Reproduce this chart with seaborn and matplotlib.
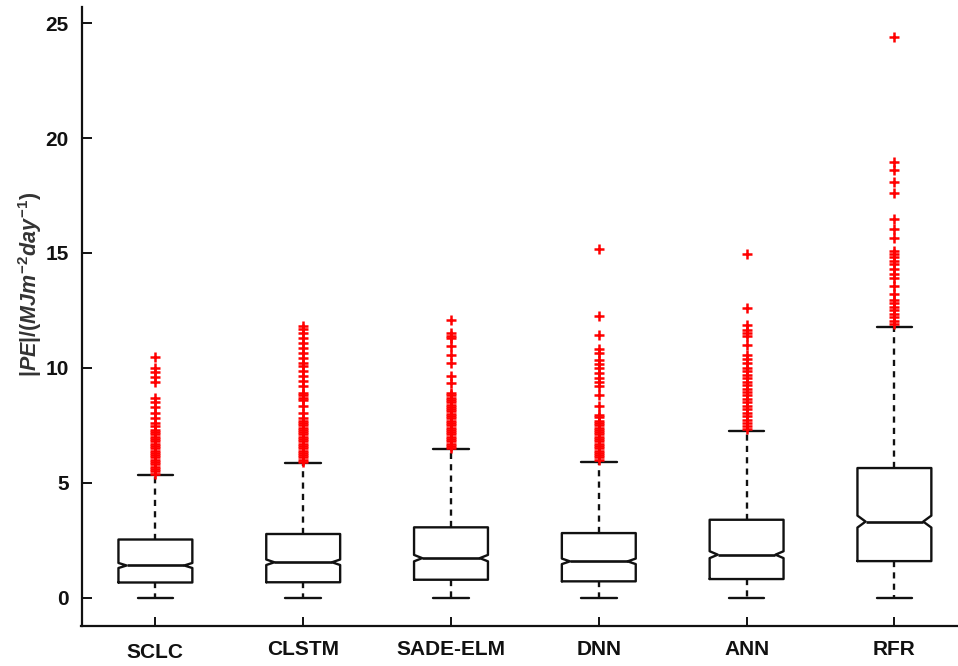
import matplotlib
matplotlib.use("Agg")
import matplotlib.pyplot as plt
from matplotlib.transforms import ScaledTranslation
import seaborn as sns

# ---------------- data ----------------
models = ["SCLC", "CLSTM", "SADE-ELM", "DNN", "ANN", "RFR"]
whisker_low = [0, 0, 0, 0, 0, 0]
q1 = [0.66, 0.67, 0.78, 0.71, 0.81, 1.59]
median = [1.40, 1.54, 1.72, 1.58, 1.87, 3.31]
q3 = [2.53, 2.77, 3.06, 2.81, 3.39, 5.64]
whisker_high = [5.33, 5.84, 6.46, 5.90, 7.25, 11.78]
notch_half = [0.11, 0.12, 0.14, 0.12, 0.15, 0.26]

sclc_outliers = [10.45, 10.0, 9.8, 9.6, 9.4, 8.7, 8.5, 8.3, 8.05, 7.8, 7.6, 7.45,
                 7.3, 7.2, 7.1, 7.0, 6.9, 6.8, 6.7, 6.6, 6.5, 6.4, 6.3, 6.2, 6.1,
                 6.0, 5.9, 5.8, 5.7, 5.6, 5.5, 5.4]
clstm_outliers = [11.84, 11.69, 11.52, 11.3, 11.08, 10.87, 10.65, 10.43, 10.21,
                  10.07, 9.85, 9.63, 9.41, 9.2, 8.91, 8.8, 8.7, 8.62, 8.33, 8.04,
                  7.82, 7.7, 7.6, 7.5, 7.4, 7.3, 7.2, 7.1, 7.0, 6.9, 6.8, 6.7,
                  6.6, 6.5, 6.4, 6.3, 6.2, 6.1, 6.0, 5.9]
sade_outliers = [12.1, 11.52, 11.4, 11.3, 10.94, 10.57, 10.21, 9.63, 9.34, 8.9,
                 8.8, 8.7, 8.6, 8.5, 8.4, 8.3, 8.2, 8.1, 8.0, 7.9, 7.8, 7.7, 7.6,
                 7.5, 7.4, 7.3, 7.2, 7.1, 7.0, 6.9, 6.8, 6.7, 6.6, 6.5]
dnn_outliers = [15.19, 12.24, 11.42, 10.84, 10.65, 10.36, 10.15, 9.99, 9.78, 9.56,
                9.38, 9.2, 8.8, 8.33, 7.96, 7.85, 7.7, 7.6, 7.5, 7.4, 7.3, 7.2,
                7.1, 7.0, 6.9, 6.8, 6.7, 6.6, 6.5, 6.4, 6.3, 6.2, 6.1, 6.0]
ann_outliers = [14.97, 12.6, 11.88, 11.66, 11.5, 11.37, 11.01, 10.57, 10.4, 10.2,
                10.0, 9.85, 9.7, 9.55, 9.4, 9.25, 9.1, 8.95, 8.8, 8.65, 8.5, 8.35,
                8.2, 8.05, 7.9, 7.75, 7.6, 7.45, 7.35]
rfr_outliers = [24.39, 18.97, 18.59, 18.1, 17.62, 16.48, 16.05, 15.65, 15.1, 14.95,
                14.84, 14.67, 14.5, 14.31, 14.1, 13.9, 13.55, 13.21, 12.94, 12.8,
                12.65, 12.5, 12.35, 12.2, 12.05, 11.9]
outliers = [sclc_outliers, clstm_outliers, sade_outliers, dnn_outliers,
            ann_outliers, rfr_outliers]

y_ticks = [0, 5, 10, 15, 20, 25]
y_label = r"$|PE|/(MJm^{-2}day^{-1})$"

# ---------------- style ----------------
sns.set_theme(style="ticks")
plt.rcParams["font.family"] = ["Liberation Sans", "DejaVu Sans"]
plt.rcParams["mathtext.fontset"] = "custom"
plt.rcParams["mathtext.rm"] = "Liberation Sans:bold"
plt.rcParams["mathtext.it"] = "Liberation Sans:italic:bold"
plt.rcParams["mathtext.bf"] = "Liberation Sans:bold"

ink = "#111111"
fig = plt.figure(figsize=(9.58, 6.66), dpi=100)
ax = fig.add_axes([81.5 / 958, 40.3 / 666, 886.8 / 958, 618.7 / 666])

stats = []
for i, m in enumerate(models):
    stats.append(dict(label=m, whislo=whisker_low[i], q1=q1[i], med=median[i],
                      q3=q3[i], whishi=whisker_high[i],
                      cilo=median[i] - notch_half[i], cihi=median[i] + notch_half[i],
                      fliers=outliers[i]))

width = 0.5
res = ax.bxp(stats, positions=list(range(len(models))), widths=width,
             capwidths=0.24, shownotches=True, showfliers=True,
             boxprops=dict(color=ink, linewidth=1.7),
             whiskerprops=dict(color=ink, linewidth=1.7, linestyle=(0, (2.6, 2.2))),
             capprops=dict(color=ink, linewidth=1.7),
             medianprops=dict(color=ink, linewidth=1.9),
             flierprops=dict(marker="+", markeredgecolor="#ff0000",
                             markerfacecolor="none", markersize=7.5,
                             markeredgewidth=1.8, linestyle="none"))

# shallow (MATLAB-like) notches
depth = 0.11 * width
for box, med in zip(res["boxes"], res["medians"]):
    xd = list(box.get_xdata())
    left, right = xd[0], xd[1]
    xd[3] = right - depth
    xd[8] = left + depth
    box.set_xdata(xd)
    med.set_xdata([left + depth, right - depth])

ax.set_xlim(-0.5, 5.5)
ax.set_ylim(-1.22, 25.7)
ax.set_yticks(y_ticks)
ax.set_yticklabels([str(t) for t in y_ticks])
ax.set_xticks(list(range(len(models))))
ax.set_xticklabels(models)

for side in ["top", "right"]:
    ax.spines[side].set_visible(False)
for side in ["left", "bottom"]:
    ax.spines[side].set_linewidth(1.6)
    ax.spines[side].set_color(ink)

ax.tick_params(axis="y", direction="in", length=7.2, width=1.4, color=ink,
               pad=9, labelsize=15, labelcolor=ink)
ax.tick_params(axis="x", direction="in", length=6.5, width=1.4, color=ink,
               pad=10, labelsize=15, labelcolor=ink)
for lbl in ax.get_xticklabels() + ax.get_yticklabels():
    lbl.set_fontweight("bold")

# SCLC label sits a little lower in the reference
first = ax.get_xticklabels()[0]
first.set_transform(first.get_transform() + ScaledTranslation(0, -3 / 100, fig.dpi_scale_trans))

ax.set_ylabel(y_label, fontsize=15.5, color="#333333", rotation=90,
              ha="center", va="center")
ax.yaxis.set_label_coords(-0.058, 0.551)
ax.grid(False)
ax.set_facecolor("white")

fig.savefig("out.png", dpi=100, facecolor="white")
